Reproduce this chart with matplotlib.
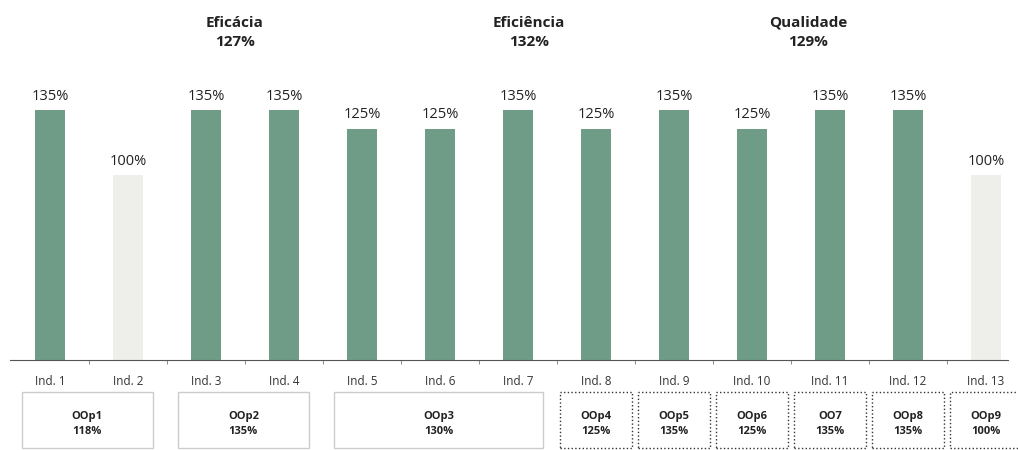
import matplotlib.pyplot as plt
from matplotlib.patches import Rectangle
from matplotlib.transforms import blended_transform_factory

plt.rcParams['font.family'] = ['Open Sans', 'DejaVu Sans']

# Indicadores e resultados
indicadores = ["Ind. 1", "Ind. 2", "Ind. 3", "Ind. 4", "Ind. 5", "Ind. 6", "Ind. 7",
               "Ind. 8", "Ind. 9", "Ind. 10", "Ind. 11", "Ind. 12", "Ind. 13"]
valores = [135, 100, 135, 135, 125, 125, 135, 125, 135, 125, 135, 135, 100]

# Dimensões (título, resultado, posição do título)
dimensoes = ["Eficácia", "Eficiência", "Qualidade"]
dim_valores = ["127%", "132%", "129%"]
dim_pos = [2.37, 6.14, 9.72]

# Objetivos operacionais: nome, resultado, primeiro e último indicador
objetivos = ["OOp1", "OOp2", "OOp3", "OOp4", "OOp5", "OOp6", "OO7", "OOp8", "OOp9"]
obj_valores = ["118%", "135%", "130%", "125%", "135%", "125%", "135%", "135%", "100%"]
obj_inicio = [0, 2, 4, 7, 8, 9, 10, 11, 12]
obj_fim = [1, 3, 6, 7, 8, 9, 10, 11, 12]

verde = "#6f9c86"
cinza = "#eeeeeb"

fig = plt.figure(figsize=(10.18, 4.5), dpi=100)
ax = fig.add_axes([0.01, 0.2, 0.98, 0.8])

x = list(range(len(valores)))
cores = [verde if v > 100 else cinza for v in valores]
bars = ax.bar(x, valores, width=0.39, color=cores)

for b, v in zip(bars, valores):
    ax.text(b.get_x() + b.get_width() / 2, v + 3.5, f"{v}%", ha="center", va="bottom",
            fontsize=10.5, color="#222222")

ax.set_xlim(-0.51, 12.28)
ax.set_ylim(0, 194.6)
ax.set_yticks([])
for s in ["top", "right", "left"]:
    ax.spines[s].set_visible(False)
ax.spines["bottom"].set_color("#555555")
ax.spines["bottom"].set_linewidth(0.8)

# marcas entre categorias
ax.set_xticks([i + 0.5 for i in x[:-1]], minor=True)
ax.tick_params(axis="x", which="minor", length=3, color="#777777")
ax.set_xticks(x)
ax.set_xticklabels(indicadores, fontsize=8.5, color="#333333")
ax.tick_params(axis="x", which="major", length=0, pad=11)

trans = blended_transform_factory(ax.transData, ax.transAxes)

for nome, val, px in zip(dimensoes, dim_valores, dim_pos):
    ax.text(px, 0.91, f"{nome}\n{val}", transform=trans, ha="center", va="center",
            fontsize=11, fontweight="bold", color="#222222", linespacing=1.5)

for i, (nome, val, a, b) in enumerate(zip(objetivos, obj_valores, obj_inicio, obj_fim)):
    if b > a:
        x0, x1 = a - 0.36, b + 0.32
        ls, ec = "-", "#cccccc"
    else:
        x0, x1 = a - 0.46, a + 0.46
        ls, ec = ":", "#333333"
    ax.add_patch(Rectangle((x0, -0.244), x1 - x0, 0.155, transform=trans,
                           fill=False, edgecolor=ec, linestyle=ls, linewidth=1.0,
                           clip_on=False))
    ax.text((x0 + x1) / 2, -0.178, f"{nome}\n{val}", transform=trans, ha="center",
            va="center", fontsize=8, fontweight="bold", color="#222222",
            linespacing=1.4)

fig.savefig("out.png", dpi=100)
